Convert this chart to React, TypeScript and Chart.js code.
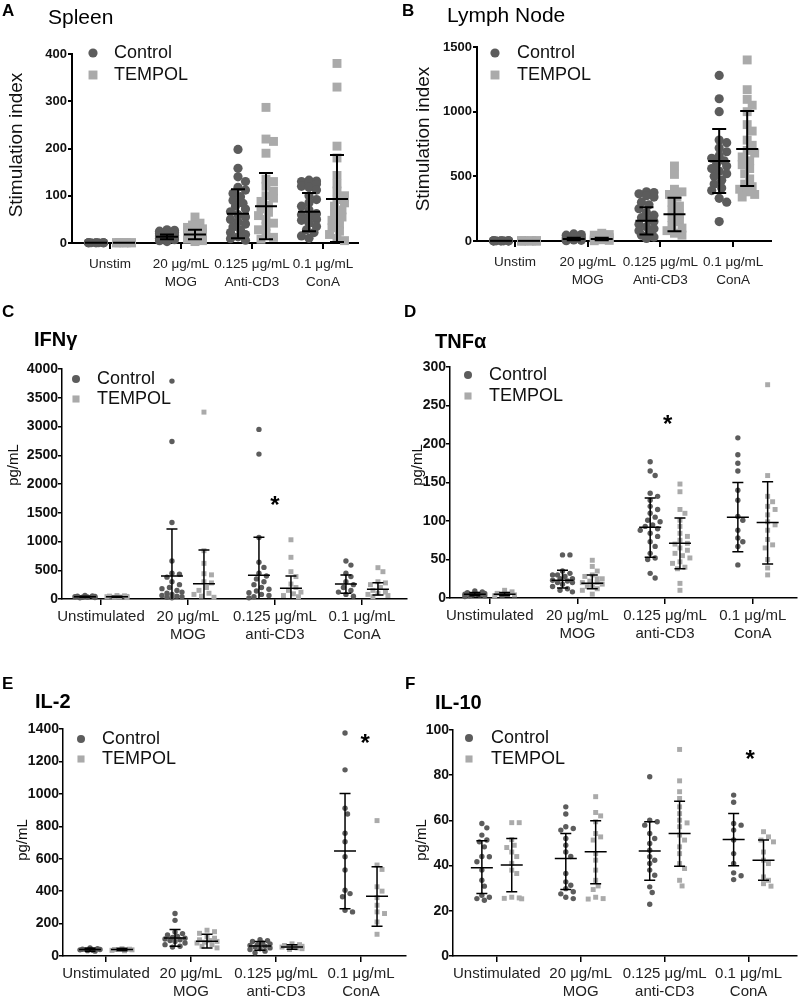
import React, { useEffect, useRef } from "react";
import { Chart, registerables } from "chart.js";
Chart.register(...registerables);

const FONT = 'Arial, "Liberation Sans", Helvetica, sans-serif';
const CONTROL_COLOR = "#5c5c5c";
const TEMPOL_COLOR = "#aaaaaa";
const seriesNames = ["Control", "TEMPOL"];

const shortCategories = [["Unstim"], ["20 μg/mL", "MOG"], ["0.125 μg/mL", "Anti-CD3"], ["0.1 μg/mL", "ConA"]];
const longCategories = [["Unstimulated"], ["20 μg/mL", "MOG"], ["0.125 μg/mL", "anti-CD3"], ["0.1 μg/mL", "ConA"]];

// ---------- A: Spleen (stimulation index) ----------
const spleenControl = [
  [0.5, 0.5, 0.5, 0.5, 0.5, 0.5, 0.5, 0.5, 0.5, 0.5],
  [28, 27, 25, 24, 22, 20, 18, 16, 15, 13, 11, 10, 9, 7, 5, 3],
  [198, 158, 140, 130, 118, 112, 105, 98, 90, 84, 78, 72, 66, 60, 55, 50, 45, 40, 34, 28, 22, 18, 13, 9, 6],
  [133, 131, 130, 128, 125, 120, 118, 112, 100, 92, 85, 78, 70, 62, 60, 55, 50, 48, 42, 35, 28, 22, 15, 10],
];
const spleenTempol = [
  [0.5, 0.5, 0.5, 0.5, 0.5, 0.5, 0.5, 0.5],
  [55, 42, 38, 33, 30, 28, 25, 22, 20, 18, 15, 12, 8, 5, 3],
  [287, 220, 215, 190, 135, 130, 120, 110, 100, 95, 88, 80, 72, 65, 58, 50, 42, 35, 28, 20, 12, 8],
  [380, 330, 205, 180, 143, 125, 110, 100, 92, 85, 78, 70, 62, 55, 48, 40, 32, 25, 18, 10, 5],
];
const spleenControlMean = [0.5, 13, 62, 66];
const spleenControlLow = [0.5, 8, 10, 25];
const spleenControlHigh = [0.5, 18, 114, 106];
const spleenTempolMean = [0.5, 18, 78, 93];
const spleenTempolLow = [0.5, 8, 8, 2];
const spleenTempolHigh = [0.5, 28, 148, 186];

// ---------- B: Lymph Node (stimulation index) ----------
const lymphControl = [
  [1, 1, 1, 1, 1, 1, 1, 1, 1, 1],
  [55, 50, 45, 40, 30, 25, 20, 15, 10, 8, 5, 2],
  [380, 375, 365, 350, 340, 300, 280, 250, 220, 200, 180, 160, 150, 130, 110, 95, 80, 60, 45, 30, 20],
  [1280, 1100, 1000, 780, 760, 720, 690, 660, 640, 620, 600, 580, 560, 540, 520, 500, 470, 440, 410, 390, 330, 300, 150],
];
const lymphTempol = [
  [1, 1, 1, 1, 1, 1, 1, 1, 1, 1],
  [60, 50, 45, 35, 25, 15, 10, 5, 2],
  [580, 515, 400, 380, 360, 340, 300, 270, 240, 210, 180, 150, 120, 100, 80, 60, 45],
  [1400, 1170, 1095, 1050, 1000, 900, 850, 780, 740, 700, 680, 650, 620, 590, 560, 520, 480, 440, 420, 400, 380, 360, 340],
];
const lymphControlMean = [1, 15, 157, 619];
const lymphControlLow = [1, 5, 50, 371];
const lymphControlHigh = [1, 25, 260, 866];
const lymphTempolMean = [1, 15, 206, 711];
const lymphTempolLow = [1, 5, 75, 425];
const lymphTempolHigh = [1, 25, 334, 1005];

// ---------- C: IFNγ (pg/mL) ----------
const ifnControl = [
  [60, 55, 50, 45, 40, 35, 30, 25, 20],
  [3790, 2740, 1330, 660, 450, 430, 380, 300, 250, 200, 180, 150, 120, 100, 80, 60, 50, 40, 30, 20],
  [2950, 2520, 1070, 640, 550, 450, 400, 350, 300, 250, 200, 170, 140, 110, 80, 60, 40, 20],
  [660, 590, 450, 390, 300, 250, 200, 150, 120, 80, 50],
];
const ifnTempol = [
  [60, 55, 50, 45, 40, 35, 30, 25],
  [3250, 840, 620, 440, 420, 300, 280, 200, 150, 100, 80, 50, 30],
  [1030, 725, 475, 390, 260, 200, 150, 120, 90, 60, 40],
  [545, 475, 300, 280, 250, 200, 150, 120, 100, 80, 60, 40],
];
const ifnControlMean = [40, 400, 412, 261];
const ifnControlLow = [30, -400, -250, 100];
const ifnControlHigh = [50, 1217, 1072, 417];
const ifnTempolMean = [40, 267, 186, 168];
const ifnTempolLow = [30, -300, -30, 70];
const ifnTempolHigh = [50, 852, 400, 284];

// ---------- D: TNFα (pg/mL) ----------
const tnfControl = [
  [9, 8, 7, 6, 5, 5, 4, 4, 3, 3, 2],
  [56, 56, 35, 32, 30, 30, 28, 25, 25, 23, 22, 20, 20, 18, 15, 12, 10, 8],
  [177, 165, 159, 136, 132, 127, 119, 115, 110, 105, 101, 99, 95, 93, 90, 88, 84, 80, 73, 67, 58, 52, 50, 32, 26],
  [208, 186, 175, 165, 140, 127, 106, 101, 88, 78, 73, 67, 43],
];
const tnfTempol = [
  [10, 8, 6, 5, 4, 4, 3],
  [49, 41, 35, 30, 28, 25, 25, 22, 20, 20, 18, 15, 15, 12, 10, 5],
  [148, 138, 115, 110, 101, 93, 84, 80, 75, 71, 70, 65, 62, 58, 55, 52, 47, 45, 40, 38, 19, 10],
  [277, 159, 132, 125, 119, 115, 108, 99, 95, 88, 76, 69, 65, 50, 39, 30],
];
const tnfControlMean = [5, 23, 92, 105];
const tnfControlLow = [3, 13, 53, 60];
const tnfControlHigh = [7, 36, 130, 150];
const tnfTempolMean = [5, 19, 71, 98];
const tnfTempolLow = [3, 12, 38, 44];
const tnfTempolHigh = [7, 30, 104, 151];

// ---------- E: IL-2 (pg/mL) ----------
const il2Control = [
  [50, 45, 42, 40, 38, 35, 33, 30],
  [262, 220, 148, 138, 130, 120, 115, 110, 105, 100, 95, 90, 80, 70, 60, 55],
  [100, 95, 90, 80, 75, 70, 65, 60, 55, 50, 45, 40, 30, 20],
  [1375, 1148, 911, 876, 757, 705, 612, 530, 406, 385, 365, 282, 272],
];
const il2Tempol = [
  [45, 42, 40, 38, 35, 32],
  [159, 150, 140, 120, 110, 100, 95, 90, 85, 80, 70, 60, 50],
  [75, 70, 65, 60, 58, 55, 52, 50, 45, 40],
  [835, 561, 534, 427, 400, 360, 313, 272, 262, 210, 134],
];
const il2ControlMean = [40, 111, 62, 647];
const il2ControlLow = [30, 60, 35, 291];
const il2ControlHigh = [50, 163, 90, 1002];
const il2TempolMean = [40, 91, 56, 369];
const il2TempolLow = [32, 50, 42, 184];
const il2TempolHigh = [48, 134, 70, 551];

// ---------- F: IL-10 (pg/mL) ----------
const il10Control = [
  [58.6, 56.7, 53.5, 51.3, 50.5, 48.3, 44, 43.9, 41.7, 38, 33.5, 30.9, 26.9, 26, 25.4, 24.7],
  [66, 62.8, 57.2, 56.4, 55.7, 52, 49, 46, 44, 36.5, 32.8, 31.3, 29.8, 28.4, 27.5, 26, 25.4],
  [79.3, 60.1, 59.4, 57.9, 54.2, 52, 49.8, 46.8, 43.9, 42.4, 40.9, 38, 35.7, 30.6, 28.1, 22.9],
  [71.2, 68, 58.6, 57.9, 55.7, 51.3, 45.3, 40.9, 36.8, 35.5, 33.8],
];
const il10Tempol = [
  [59, 59, 51.5, 49, 48, 46, 44, 41, 38, 36.5, 26, 25.7, 25.5, 25.3],
  [70.5, 63.5, 62, 59.4, 54.2, 52.7, 51.3, 45.3, 42.4, 38, 33.5, 31, 29.4, 26, 25.4, 25.2],
  [91.4, 77.5, 72.7, 69.7, 66, 63, 60.1, 58.9, 57.2, 53.5, 51.3, 48.3, 45.3, 40.9, 38.7, 33.5, 31],
  [55, 52.7, 51.3, 50.5, 46, 42.4, 40.9, 35, 33.5, 32, 30.9],
];
const il10ControlMean = [39, 43.1, 46.5, 51.6];
const il10ControlLow = [27.6, 29.4, 33.5, 39.9];
const il10ControlHigh = [51, 54.2, 59.4, 63];
const il10TempolMean = [40.3, 46.1, 54.2, 42.4];
const il10TempolLow = [28.4, 32, 39.7, 33.5];
const il10TempolHigh = [52, 59.8, 68.5, 51.3];

type Style = {
  circleR: number; rectR: number; legCircleR: number; legRectR: number;
  swarmD: number; swarmStep: number; swarmMax: number;
  yTickFont: number; xTickFont: number; xTickLH: number; xTickPad: number; yTickPad: number;
  axisW: number; barW: number; meanHalf: number; capHalf: number;
  titleFont: string; yTitleFont: string; xAxisH: number;
};

const BIG: Style = {
  circleR: 4.6, rectR: 6.3, legCircleR: 4.6, legRectR: 6.3,
  swarmD: 7, swarmStep: 2.5, swarmMax: 7.5,
  yTickFont: 13, xTickFont: 13.5, xTickLH: 1.33, xTickPad: 6, yTickPad: 1,
  axisW: 2, barW: 2, meanHalf: 11, capHalf: 7,
  titleFont: `21px ${FONT}`, yTitleFont: `19px ${FONT}`, xAxisH: 52,
};
const SMALL: Style = {
  circleR: 2.7, rectR: 3.5, legCircleR: 4, legRectR: 5,
  swarmD: 6, swarmStep: 2.5, swarmMax: 10,
  yTickFont: 14, xTickFont: 15, xTickLH: 1.2, xTickPad: 3, yTickPad: 0,
  axisW: 1.5, barW: 1.5, meanHalf: 11, capHalf: 5.5,
  titleFont: `bold 20px ${FONT}`, yTitleFont: `15px ${FONT}`, xAxisH: 43,
};

type PanelCfg = {
  canvas: [number, number, number, number];
  plot: [number, number, number, number]; // x0, yTop, x1, yBottom
  xRange: [number, number];
  yMax: number; yStep: number;
  categories: string[][];
  control: number[][]; tempol: number[][];
  cMean: number[]; cLow: number[]; cHigh: number[];
  tMean: number[]; tLow: number[]; tHigh: number[];
  letter: string; letterPos: [number, number];
  title: string; titlePos: [number, number];
  yTitle: string; yTitlePos: [number, number];
  legend: [number, number, number, number];
  star?: [number, number];
  offPx: number;
  style: Style;
};

const panels: PanelCfg[] = [
  {
    canvas: [0, 0, 400, 300], plot: [72, 54, 358, 243], xRange: [-0.535, 3.493],
    yMax: 400, yStep: 100, categories: shortCategories,
    control: spleenControl, tempol: spleenTempol,
    cMean: spleenControlMean, cLow: spleenControlLow, cHigh: spleenControlHigh,
    tMean: spleenTempolMean, tLow: spleenTempolLow, tHigh: spleenTempolHigh,
    letter: "A", letterPos: [2, 11], title: "Spleen", titlePos: [48, 18],
    yTitle: "Stimulation index", yTitlePos: [17, 145], legend: [93, 53, 75, 114],
    offPx: 14, style: BIG,
  },
  {
    canvas: [400, 0, 400, 300], plot: [477, 47, 771, 241], xRange: [-0.523, 3.52],
    yMax: 1500, yStep: 500, categories: shortCategories,
    control: lymphControl, tempol: lymphTempol,
    cMean: lymphControlMean, cLow: lymphControlLow, cHigh: lymphControlHigh,
    tMean: lymphTempolMean, tLow: lymphTempolLow, tHigh: lymphTempolHigh,
    letter: "B", letterPos: [402, 11], title: "Lymph Node", titlePos: [447, 16],
    yTitle: "Stimulation index", yTitlePos: [424, 139], legend: [495, 53, 75, 517],
    offPx: 14, style: BIG,
  },
  {
    canvas: [0, 300, 412, 360], plot: [62, 369, 407, 599], xRange: [-0.448, 3.518],
    yMax: 4000, yStep: 500, categories: longCategories,
    control: ifnControl, tempol: ifnTempol,
    cMean: ifnControlMean, cLow: ifnControlLow, cHigh: ifnControlHigh,
    tMean: ifnTempolMean, tLow: ifnTempolLow, tHigh: ifnTempolHigh,
    letter: "C", letterPos: [2, 312], title: "IFNγ", titlePos: [34, 340],
    yTitle: "pg/mL", yTitlePos: [14, 465], legend: [76, 379, 399, 97],
    star: [2.0, 1739], offPx: 16, style: SMALL,
  },
  {
    canvas: [400, 300, 400, 360], plot: [450, 367, 799, 598], xRange: [-0.453, 3.499],
    yMax: 300, yStep: 50, categories: longCategories,
    control: tnfControl, tempol: tnfTempol,
    cMean: tnfControlMean, cLow: tnfControlLow, cHigh: tnfControlHigh,
    tMean: tnfTempolMean, tLow: tnfTempolLow, tHigh: tnfTempolHigh,
    letter: "D", letterPos: [404, 312], title: "TNFα", titlePos: [435, 342],
    yTitle: "pg/mL", yTitlePos: [418, 465], legend: [468, 375, 396, 489],
    star: [2.03, 234], offPx: 15, style: SMALL,
  },
  {
    canvas: [0, 630, 412, 369], plot: [63, 729, 406, 956], xRange: [-0.506, 3.529],
    yMax: 1400, yStep: 200, categories: longCategories,
    control: il2Control, tempol: il2Tempol,
    cMean: il2ControlMean, cLow: il2ControlLow, cHigh: il2ControlHigh,
    tMean: il2TempolMean, tLow: il2TempolLow, tHigh: il2TempolHigh,
    letter: "E", letterPos: [2, 684], title: "IL-2", titlePos: [35, 702],
    yTitle: "pg/mL", yTitlePos: [23, 840], legend: [81, 739, 759, 102],
    star: [3.05, 1351], offPx: 16, style: SMALL,
  },
  {
    canvas: [400, 630, 400, 369], plot: [453, 730, 798, 956], xRange: [-0.522, 3.571],
    yMax: 100, yStep: 20, categories: longCategories,
    control: il10Control, tempol: il10Tempol,
    cMean: il10ControlMean, cLow: il10ControlLow, cHigh: il10ControlHigh,
    tMean: il10TempolMean, tLow: il10TempolLow, tHigh: il10TempolHigh,
    letter: "F", letterPos: [405, 684], title: "IL-10", titlePos: [435, 703],
    yTitle: "pg/mL", yTitlePos: [422, 840], legend: [469, 738, 759, 491],
    star: [3.02, 90], offPx: 15, style: SMALL,
  },
];

function swarm(values: number[], pxPerY: number, d: number, step: number, maxSpread: number): number[] {
  const placed: { x: number; y: number }[] = [];
  const offs: number[] = new Array(values.length).fill(0);
  const order = values.map((_, i) => i).sort((a, b) => values[b] - values[a]);
  const cands = [0];
  for (let k = 1; k * step <= maxSpread + 1e-9; k++) cands.push(k * step, -k * step);
  for (const i of order) {
    const y = values[i] * pxPerY;
    let best = 0;
    let bestScore = Infinity;
    for (const c of cands) {
      let score = 0;
      for (const p of placed) {
        const dist = Math.hypot(p.x - c, p.y - y);
        if (dist < d) score += d - dist;
      }
      if (score < bestScore - 1e-9) { bestScore = score; best = c; }
      if (score === 0) break;
    }
    placed.push({ x: best, y });
    offs[i] = best;
  }
  return offs;
}

function Panel({ cfg }: { cfg: PanelCfg }) {
  const ref = useRef<HTMLCanvasElement>(null);
  useEffect(() => {
    const canvas = ref.current;
    if (!canvas) return;
    const st = cfg.style;
    const [cl, ct, cw, ch] = cfg.canvas;
    const [x0, y0, x1, y1] = cfg.plot;
    const [xMin, xMax] = cfg.xRange;
    const pxPerX = (x1 - x0) / (xMax - xMin);
    const pxPerY = (y1 - y0) / cfg.yMax;
    const offU = cfg.offPx / pxPerX;
    const Y_AXIS_W = 40;
    const X_AXIS_H = st.xAxisH;

    const build = (groups: number[][], sign: number) =>
      groups.flatMap((g, gi) => {
        const offs = swarm(g, pxPerY, st.swarmD, st.swarmStep, st.swarmMax);
        return g.map((v, j) => ({ x: gi + sign * offU + offs[j] / pxPerX, y: v }));
      });

    const ctrlPts = build(cfg.control, -1);
    const tempPts = build(cfg.tempol, 1);

    const deco = {
      id: "deco",
      afterDatasetsDraw(chart: any) {
        const ctx: CanvasRenderingContext2D = chart.ctx;
        const xs = chart.scales.x;
        const ys = chart.scales.y;
        ctx.save();
        ctx.strokeStyle = "#000";
        ctx.lineWidth = st.barW;
        const series = [
          { mean: cfg.cMean, low: cfg.cLow, high: cfg.cHigh, sign: -1 },
          { mean: cfg.tMean, low: cfg.tLow, high: cfg.tHigh, sign: 1 },
        ];
        for (const s of series) {
          s.mean.forEach((m, gi) => {
            const xp = xs.getPixelForValue(gi + s.sign * offU);
            const ym = ys.getPixelForValue(m);
            const yl = ys.getPixelForValue(Math.max(s.low[gi], 0));
            const yh = ys.getPixelForValue(s.high[gi]);
            ctx.beginPath();
            ctx.moveTo(xp, yl); ctx.lineTo(xp, yh);
            ctx.moveTo(xp - st.meanHalf, ym); ctx.lineTo(xp + st.meanHalf, ym);
            if (s.high[gi] > m) { ctx.moveTo(xp - st.capHalf, yh); ctx.lineTo(xp + st.capHalf, yh); }
            if (s.low[gi] > 0 && s.low[gi] < m) { ctx.moveTo(xp - st.capHalf, yl); ctx.lineTo(xp + st.capHalf, yl); }
            ctx.stroke();
          });
        }
        ctx.fillStyle = "#000";
        ctx.textBaseline = "middle";
        ctx.textAlign = "left";
        ctx.font = `bold 17px ${FONT}`;
        ctx.fillText(cfg.letter, cfg.letterPos[0] - cl, cfg.letterPos[1] - ct);
        ctx.font = st.titleFont;
        ctx.fillText(cfg.title, cfg.titlePos[0] - cl, cfg.titlePos[1] - ct);
        ctx.save();
        ctx.translate(cfg.yTitlePos[0] - cl, cfg.yTitlePos[1] - ct);
        ctx.rotate(-Math.PI / 2);
        ctx.textAlign = "center";
        ctx.font = st.yTitleFont;
        ctx.fillStyle = "#111";
        ctx.fillText(cfg.yTitle, 0, 0);
        ctx.restore();
        const [lx, ly1, ly2, tx] = cfg.legend;
        ctx.fillStyle = CONTROL_COLOR;
        ctx.beginPath();
        ctx.arc(lx - cl, ly1 - ct, st.legCircleR, 0, Math.PI * 2);
        ctx.fill();
        ctx.fillStyle = TEMPOL_COLOR;
        const side = st.legRectR * Math.SQRT2;
        ctx.fillRect(lx - cl - side / 2, ly2 - ct - side / 2, side, side);
        ctx.fillStyle = "#111";
        ctx.font = `18px ${FONT}`;
        ctx.fillText(seriesNames[0], tx - cl, ly1 - ct);
        ctx.fillText(seriesNames[1], tx - cl, ly2 - ct);
        if (cfg.star) {
          const sx = xs.getPixelForValue(cfg.star[0]);
          const sy = ys.getPixelForValue(cfg.star[1]);
          ctx.font = `bold 24px ${FONT}`;
          ctx.textAlign = "center";
          ctx.textBaseline = "alphabetic";
          ctx.fillStyle = "#000";
          ctx.fillText("*", sx, sy + 14);
        }
        ctx.restore();
      },
    };

    const chart = new Chart(canvas, {
      type: "scatter",
      data: {
        datasets: [
          {
            label: seriesNames[0], data: ctrlPts, pointStyle: "circle",
            pointRadius: st.circleR, pointHoverRadius: st.circleR,
            pointBackgroundColor: CONTROL_COLOR, backgroundColor: CONTROL_COLOR,
            pointBorderWidth: 0, borderWidth: 0, showLine: false, clip: false,
          } as any,
          {
            label: seriesNames[1], data: tempPts, pointStyle: "rect",
            pointRadius: st.rectR, pointHoverRadius: st.rectR,
            pointBackgroundColor: TEMPOL_COLOR, backgroundColor: TEMPOL_COLOR,
            pointBorderWidth: 0, borderWidth: 0, showLine: false, clip: false,
          } as any,
        ],
      },
      options: {
        animation: false,
        responsive: false,
        events: [],
        layout: {
          padding: {
            left: x0 - cl - Y_AXIS_W,
            top: y0 - ct,
            right: cl + cw - x1,
            bottom: Math.max(0, ct + ch - y1 - X_AXIS_H),
          },
        },
        plugins: { legend: { display: false }, tooltip: { enabled: false }, title: { display: false } },
        scales: {
          x: {
            type: "linear", min: xMin, max: xMax,
            afterBuildTicks: (s: any) => { s.ticks = cfg.categories.map((_, i) => ({ value: i })); },
            afterFit: (s: any) => { s.height = X_AXIS_H; },
            ticks: {
              autoSkip: false, maxRotation: 0, minRotation: 0,
              callback: (v: any) => cfg.categories[Math.round(Number(v))] as any,
              font: { family: FONT, size: st.xTickFont, lineHeight: st.xTickLH },
              color: "#222", padding: st.xTickPad,
            },
            grid: { drawOnChartArea: false, drawTicks: true, tickLength: 6, color: "#000", lineWidth: st.axisW },
            border: { display: true, color: "#000", width: st.axisW },
          },
          y: {
            type: "linear", min: 0, max: cfg.yMax,
            afterFit: (s: any) => { s.width = Y_AXIS_W; },
            ticks: {
              stepSize: cfg.yStep,
              callback: (v: any) => String(v),
              font: { family: FONT, size: st.yTickFont, weight: "bold" },
              color: "#111", padding: st.yTickPad,
            },
            grid: { drawOnChartArea: false, drawTicks: true, tickLength: 4, color: "#000", lineWidth: st.axisW },
            border: { display: true, color: "#000", width: st.axisW },
          },
        },
      } as any,
      plugins: [deco],
    });
    return () => chart.destroy();
  }, [cfg]);
  const [cl, ct, cw, ch] = cfg.canvas;
  return (
    <canvas
      ref={ref}
      width={cw}
      height={ch}
      style={{ position: "absolute", left: cl, top: ct, width: cw, height: ch }}
    />
  );
}

export default function App() {
  return (
    <div style={{ position: "absolute", left: 0, top: 0, width: 800, height: 999, background: "#fff" }}>
      {panels.map((p, i) => (
        <Panel key={i} cfg={p} />
      ))}
    </div>
  );
}
